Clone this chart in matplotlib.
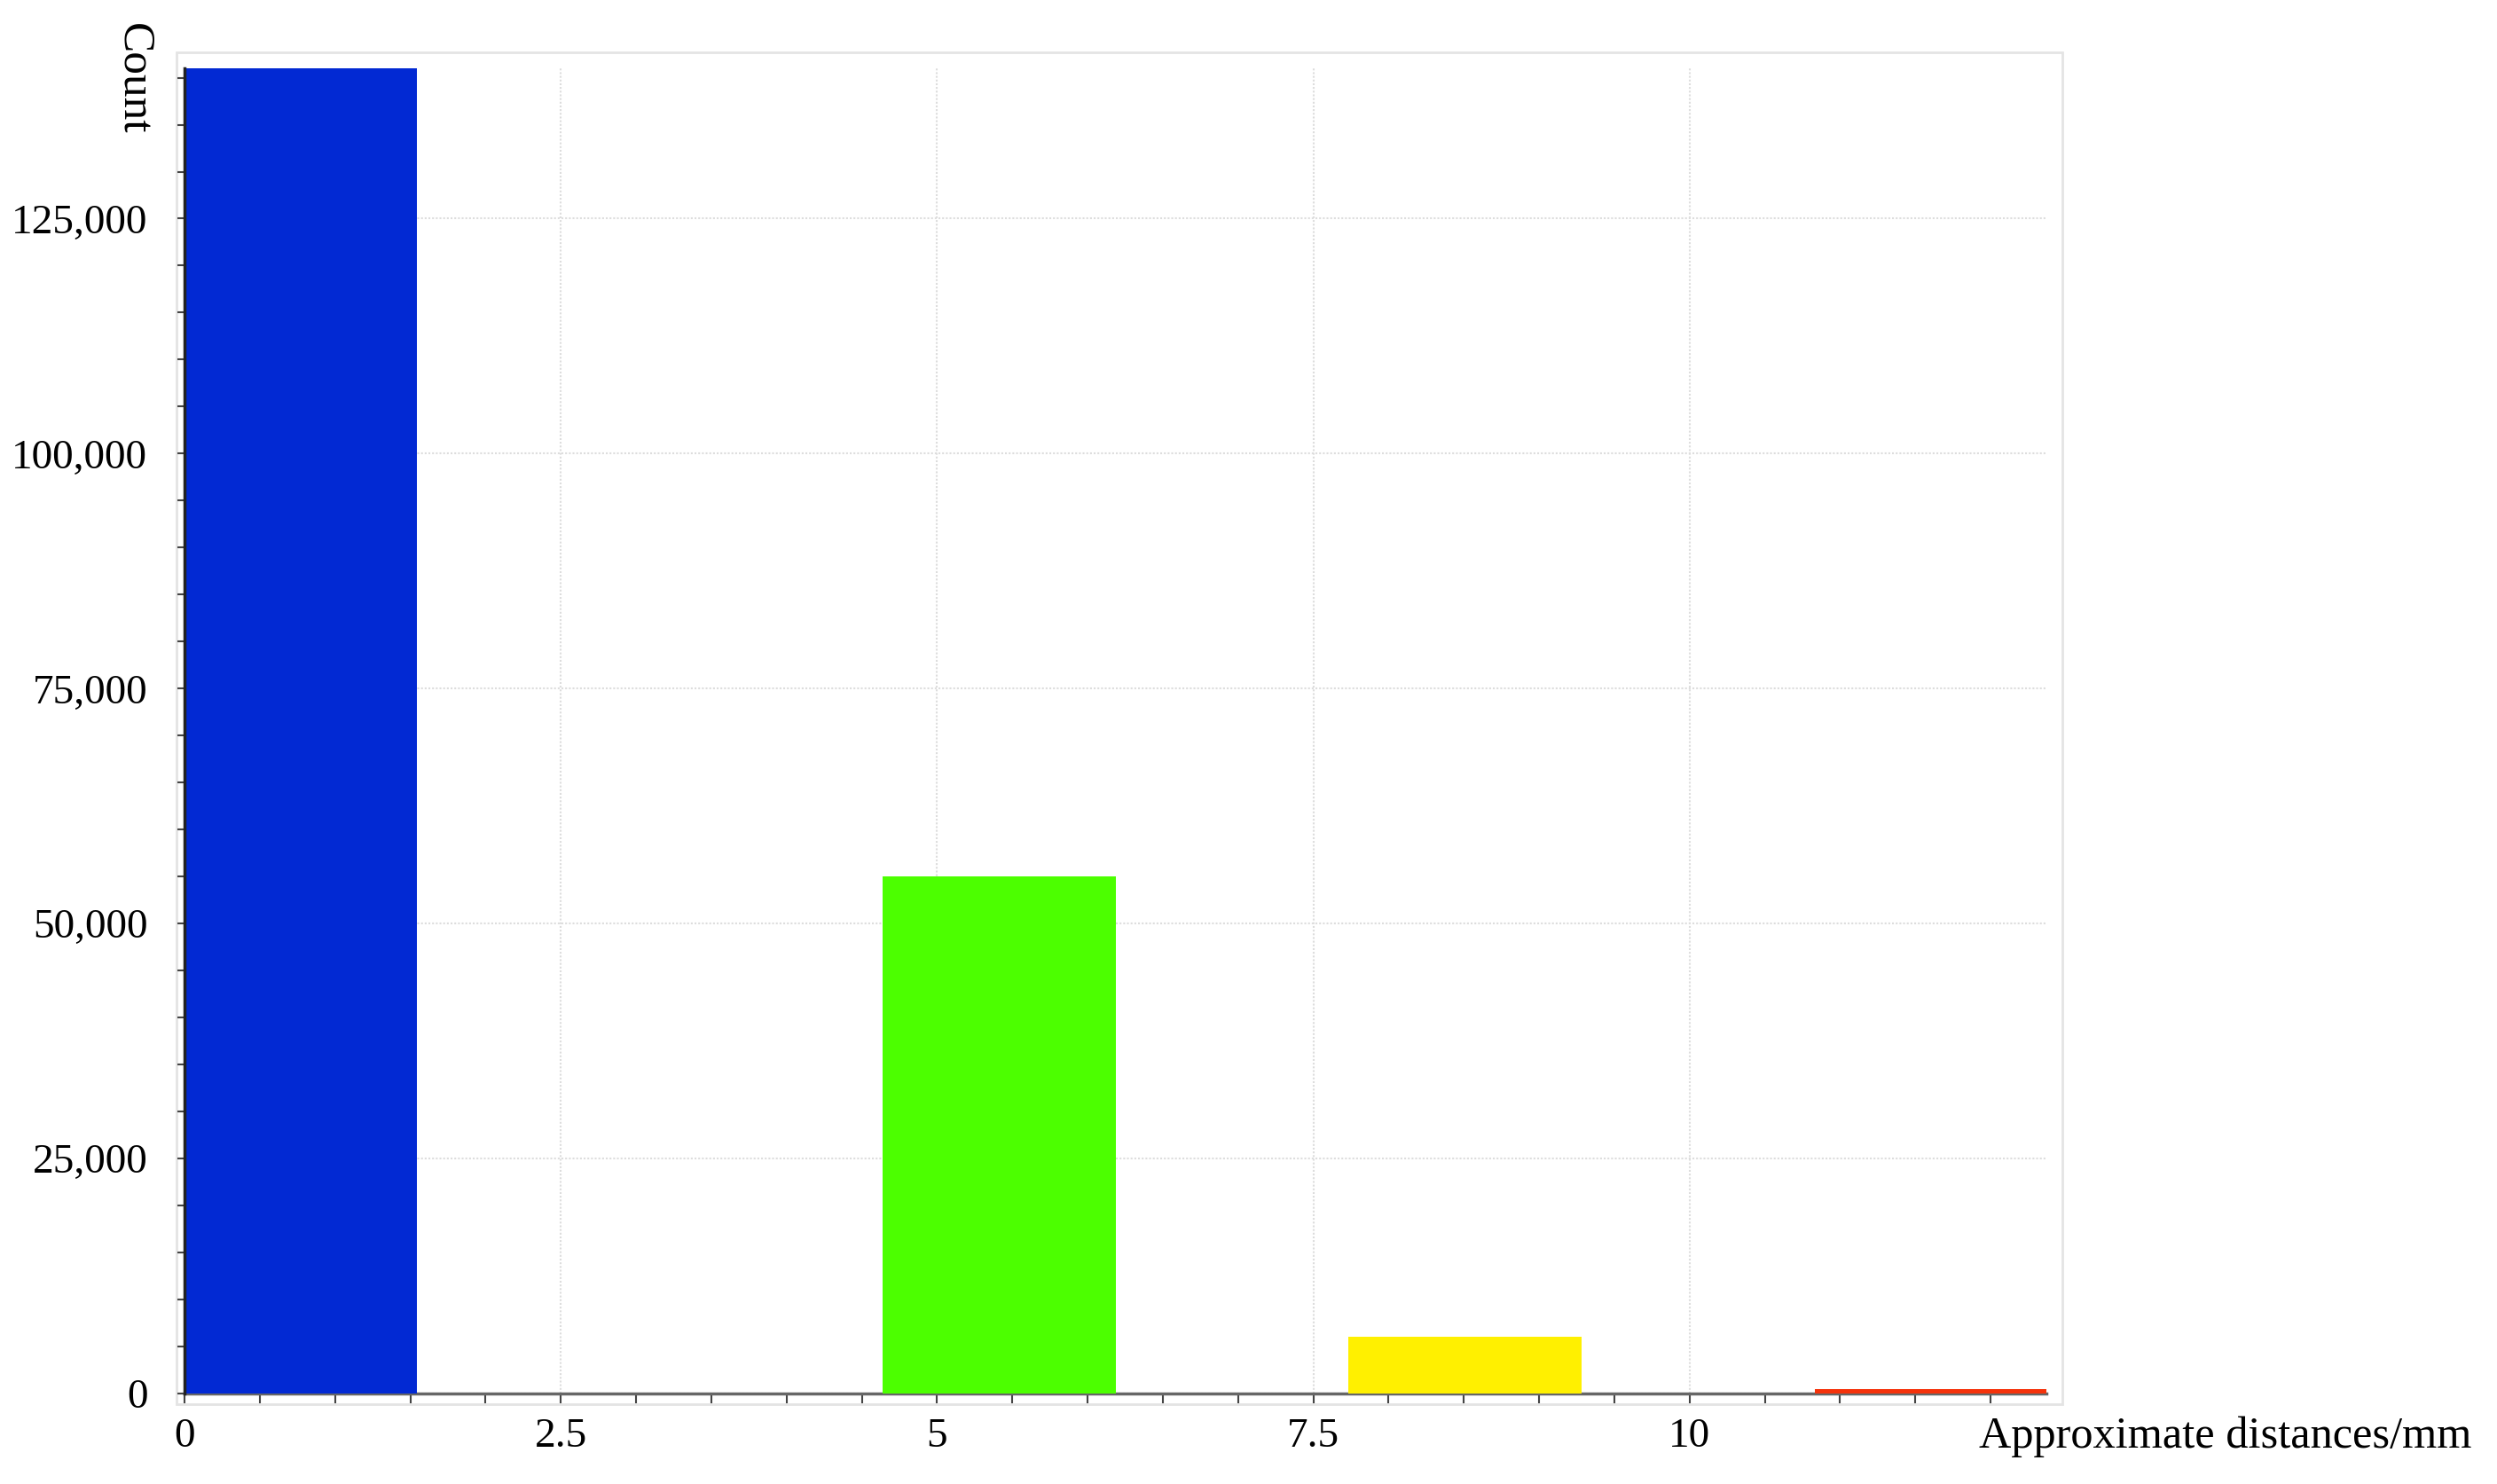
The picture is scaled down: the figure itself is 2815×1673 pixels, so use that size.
import matplotlib
matplotlib.use("Agg")
import matplotlib.pyplot as plt
from matplotlib.patches import Rectangle
from matplotlib.ticker import MultipleLocator

# ---- data ----
bar_starts = [0.0, 4.64, 7.73, 10.83]
bar_ends = [1.546, 6.19, 9.28, 12.37]
counts = [141000, 55000, 6000, 450]
bar_colors = ["#0229D3", "#4CFF00", "#FFF000", "#F5320A"]

x_ticks = [0, 2.5, 5, 7.5, 10]
x_tick_labels = ["0", "2.5", "5", "7.5", "10"]
y_ticks = [0, 25000, 50000, 75000, 100000, 125000]
y_tick_labels = ["0", "25,000", "50,000", "75,000", "100,000", "125,000"]

plt.rcParams["font.family"] = ["Liberation Serif", "DejaVu Serif"]

fig = plt.figure(figsize=(28.15, 16.73), dpi=100)
ax = fig.add_axes([0.0739, 0.0610, 0.7456, 0.8930])

widths = [e - s for s, e in zip(bar_starts, bar_ends)]
ax.bar(bar_starts, counts, width=widths, align="edge", color=bar_colors,
       edgecolor="none", zorder=3)

ax.set_xlim(0, bar_ends[-1])
ax.set_ylim(0, counts[0])

ax.set_xticks(x_ticks)
ax.set_xticklabels(x_tick_labels)
ax.set_yticks(y_ticks)
ax.set_yticklabels(y_tick_labels)
ax.xaxis.set_minor_locator(MultipleLocator(0.5))
ax.yaxis.set_minor_locator(MultipleLocator(5000))

ax.tick_params(axis="both", which="major", labelsize=34, colors="#444444",
               labelcolor="black")
ax.tick_params(axis="x", which="major", length=8, width=1.5, pad=12)
ax.tick_params(axis="x", which="minor", length=8, width=1.5, colors="#444444")
ax.tick_params(axis="y", which="major", length=6, width=1.5, pad=24)
ax.tick_params(axis="y", which="minor", length=6, width=1.5, colors="#444444")

for side in ["top", "right"]:
    ax.spines[side].set_visible(False)
ax.spines["bottom"].set_color("#666666")
ax.spines["bottom"].set_linewidth(2.5)
ax.spines["left"].set_color("#222222")
ax.spines["left"].set_linewidth(2.5)
ax.spines["left"].set_zorder(4)

ax.set_axisbelow(True)
ax.grid(True, which="major", linestyle=(0, (1, 1)), color="#dddddd", linewidth=1.5)

# light outer frame
frame = Rectangle((-0.0045, -0.008), 1.0131, 1.020, transform=ax.transAxes,
                  fill=False, edgecolor="#e4e4e4", linewidth=2, clip_on=False, zorder=0)
ax.add_patch(frame)

fig.text(0.0536, 0.947, "Count", rotation=270, fontsize=37,
         ha="center", va="center")
fig.text(0.7926, 0.032, "Approximate distances/mm", fontsize=36.3,
         ha="left", va="center")

fig.savefig("out.png", dpi=100)
